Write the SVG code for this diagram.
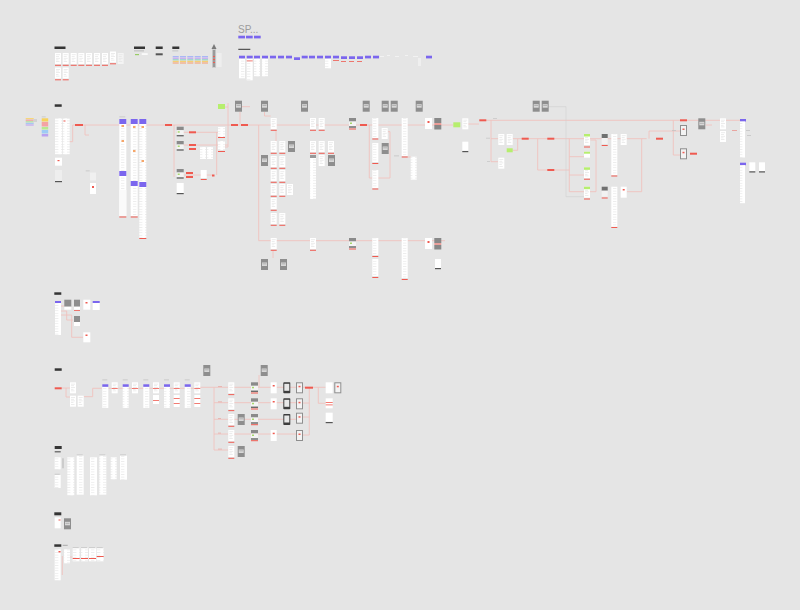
<svg xmlns="http://www.w3.org/2000/svg" width="800" height="610" viewBox="0 0 800 610">
<style>
.r{fill:#ef5a50}.k{fill:#353535}.p{fill:#7b66ee}.w{fill:#fff}.t{fill:url(#txt)}.gn{fill:#b6ee6e}.lb{fill:#c4c4c4}
.c{fill:none;stroke:#f0c2bd;stroke-width:0.9}.cg{fill:none;stroke:#d0d0d0;stroke-width:0.6}
</style>
<defs>
<pattern id="txt" width="6" height="2.6" patternUnits="userSpaceOnUse"><rect width="6" height="2.6" fill="#fff"/><rect x="1" y="0.9" width="3.4" height="0.55" fill="#e3e3e3"/></pattern>
<g id="s"><rect width="6" height="11" fill="#fff"/><rect x="1" y="1.5" width="4" height="0.6" fill="#e0e0e0"/><rect x="1" y="3.2" width="3" height="0.6" fill="#e0e0e0"/><rect x="1" y="4.9" width="4" height="0.6" fill="#e0e0e0"/><rect x="1" y="6.6" width="2.5" height="0.6" fill="#e0e0e0"/><rect x="1" y="8.3" width="3.5" height="0.6" fill="#e0e0e0"/></g>
<g id="sr"><use href="#s"/><rect y="11.8" width="6" height="1" fill="#ef5f56"/></g>
<g id="gr"><rect width="7" height="11" fill="#8e8e8e"/><rect x="1" y="3.5" width="5" height="3.5" fill="#d8d8d8"/><rect x="1.5" y="4.6" width="4" height="0.6" fill="#9a9a9a"/></g>
<g id="gb"><rect width="7" height="3.5" fill="#8a8a8a"/><rect y="3.5" width="7" height="4.5" fill="#f4f4f4"/><rect x="1" y="4.5" width="2" height="1.5" fill="#a6d86a"/><rect y="8.3" width="7" height="1.4" fill="#6c6c6c"/></g>
<g id="dk"><rect width="7" height="11" rx="0.8" fill="#3d3d3d"/><rect x="1" y="1.5" width="5" height="7" fill="#e8e8e8"/></g>
<g id="gf"><rect width="7" height="11" fill="#8e8e8e"/><rect x="1" y="1" width="5" height="9" fill="#f3f3f3"/><rect x="2.5" y="3.5" width="2" height="1.5" fill="#ef5f56"/></g>
</defs>
<rect width="800" height="610" fill="#e5e5e5"/>

<g id="connectors">
<path class="c" d="M69.5,141.7H72.7V125H453"/>
<path class="c" d="M85,125V135H89"/>
<path class="c" d="M174,125V177M176,132.3H218M183,145H228M183,175H212M216.7,132V175M228,103V147H222M225,107H228M242,106.7H250M240,112V124"/>
<path class="c" d="M258.7,125V240.7H445"/>
<path class="c" d="M264.5,112V116H270.7M276,130V141M369.3,125V178H390V131.7H388M407.7,157H410.7M273,250V258"/>
<path class="c" d="M468,124H479M486,120.3H740M491,120.3V161.7H498M491,138.7H498M512.7,138.7H646.7M517.7,138.7V150.3H512.7M537.7,138.7V170H569.3M569.3,138.7V191.7H584M569.3,156.7H584M569.3,175H584M590.5,140H596V191.7H590M641.7,138.7V191.7H627M649,138.7V131H673M673.3,120.3V155H680M673.3,131H680M706,125H712"/>
<path class="cg" d="M549,106.7H566V196.7H584"/>
<path class="c" d="M61,306H64M61,311H66.7V320H73M61,315H71.7V337.3H83"/>
<path class="c" d="M61.7,388H66V397H70M66,388H70M84,396.7H92.7V388.3H101.7M108.3,388.3H200"/>
<path class="c" d="M200,387.3H214V450M214,387.3H228.3M214,402.7H228.3M214,419.3H228.3M214,434H228.3M214,450H228.3M234,387.3H296M234,402.7H296M234,419.3H296M234,434H296M259,375V387"/>
<path class="c" d="M303,387.3H313M303,403H309.3M303,417H309.3M303,435H309.3M309.3,387.3V435M313,387.3H325.7M318.3,387.3V403.3H325.7"/>
<path class="c" d="M62.3,556V575M70,557H72.7"/>
</g>

<g id="sec-top">
<rect class="k" x="54.5" y="46.5" width="11" height="2.5"/>
<use href="#sr" x="55" y="53"/><use href="#sr" x="62.7" y="53"/><use href="#sr" x="70.7" y="53"/><use href="#sr" x="78.3" y="53"/><use href="#sr" x="86" y="53"/><use href="#sr" x="94" y="53"/><use href="#sr" x="102" y="53"/><use href="#sr" x="110" y="51.5"/><use href="#s" x="117.7" y="53" opacity="0.6"/>
<use href="#sr" x="55" y="67.5"/><use href="#sr" x="62.7" y="67.5"/>
<rect class="k" x="134" y="46.5" width="11" height="2.5"/><rect x="134" y="50.5" width="10" height="0.8" fill="#b0b0b0"/><rect x="135" y="54" width="4" height="1.2" fill="#9c6"/><rect class="w" x="141.7" y="53.3" width="6" height="1.5"/>
<rect class="k" x="155.7" y="46.5" width="7" height="2.5"/><rect x="155.7" y="53.3" width="7" height="2" fill="#555"/>
<rect class="k" x="172.3" y="46.5" width="7" height="2.5"/><rect x="172.3" y="50.5" width="6" height="0.8" fill="#bbb"/>
<g id="colors">
<g><rect x="172.7" y="56" width="6" height="1.2" fill="#a9b8f5"/><rect x="172.7" y="57.6" width="6" height="1.2" fill="#c2a6f2"/><rect x="172.7" y="59.2" width="6" height="1.2" fill="#8fd6c8"/><rect x="172.7" y="60.8" width="6" height="1.2" fill="#f5cf74"/><rect x="172.7" y="62.4" width="6" height="1.2" fill="#f5a77e"/></g>
<g><rect x="180" y="56" width="6" height="1.2" fill="#a9b8f5"/><rect x="180" y="57.6" width="6" height="1.2" fill="#c2a6f2"/><rect x="180" y="59.2" width="6" height="1.2" fill="#8fd6c8"/><rect x="180" y="60.8" width="6" height="1.2" fill="#f5cf74"/><rect x="180" y="62.4" width="6" height="1.2" fill="#f5a77e"/></g>
<g><rect x="187.3" y="56" width="6" height="1.2" fill="#a9b8f5"/><rect x="187.3" y="57.6" width="6" height="1.2" fill="#c2a6f2"/><rect x="187.3" y="59.2" width="6" height="1.2" fill="#8fd6c8"/><rect x="187.3" y="60.8" width="6" height="1.2" fill="#f5cf74"/><rect x="187.3" y="62.4" width="6" height="1.2" fill="#f5a77e"/></g>
<g><rect x="194.7" y="56" width="6" height="1.2" fill="#a9b8f5"/><rect x="194.7" y="57.6" width="6" height="1.2" fill="#c2a6f2"/><rect x="194.7" y="59.2" width="6" height="1.2" fill="#8fd6c8"/><rect x="194.7" y="60.8" width="6" height="1.2" fill="#f5cf74"/><rect x="194.7" y="62.4" width="6" height="1.2" fill="#f5a77e"/></g>
<g><rect x="202" y="56" width="6" height="1.2" fill="#a9b8f5"/><rect x="202" y="57.6" width="6" height="1.2" fill="#c2a6f2"/><rect x="202" y="59.2" width="6" height="1.2" fill="#8fd6c8"/><rect x="202" y="60.8" width="6" height="1.2" fill="#f5cf74"/><rect x="202" y="62.4" width="6" height="1.2" fill="#f5a77e"/></g>
</g>
<g id="tree"><rect x="216.7" y="53" width="5" height="14" fill="#eeeeee"/><path d="M214,44L216.5,49H211.5Z" fill="#7a7a7a"/><rect x="212" y="49" width="4" height="19" fill="#cfcfcf"/><rect x="212.8" y="50" width="2.4" height="17" fill="#9a9a9a"/><rect x="213" y="56" width="2" height="1" class="r"/><rect x="213" y="59" width="2" height="1" class="r"/><rect x="213" y="62" width="2" height="1" class="r"/></g>
</g>

<g id="sec-sp">
<text x="238" y="32.5" font-family="Liberation Sans, Arial, sans-serif" font-size="10" fill="#9c9c9c">SP...</text>
<rect class="p" x="238.3" y="35.7" width="6.7" height="2.7"/><rect class="p" x="246" y="35.7" width="6.7" height="2.7"/><rect class="p" x="254" y="35.7" width="6.7" height="2.7"/>
<rect class="k" x="238.3" y="48.8" width="12" height="1"/>
<rect class="t" x="239" y="58.3" width="6" height="20"/><rect class="t" x="246.7" y="58.3" width="6" height="22"/><rect class="r" x="246.7" y="60.5" width="6" height="0.8"/>
<rect class="t" x="254" y="58.3" width="6" height="18"/><rect class="t" x="262" y="58.3" width="6" height="18"/>
<rect class="t" x="325" y="58.3" width="6" height="10"/>
<rect class="r" x="333" y="60" width="6" height="0.8"/><rect class="r" x="341" y="61" width="5" height="0.8"/><rect class="r" x="349" y="61" width="5" height="0.8"/><rect class="r" x="357" y="61" width="5" height="0.8"/>
<rect class="p" x="239" y="55.7" width="6" height="2.7"/><rect class="p" x="246.7" y="55.7" width="6" height="2.7"/><rect class="p" x="254" y="55.7" width="6" height="2.7"/><rect class="p" x="262" y="55.7" width="6" height="2.7"/><rect class="p" x="270" y="55.7" width="6" height="2.7"/><rect class="p" x="278" y="55.7" width="6" height="2.7"/><rect class="p" x="286" y="55.7" width="6" height="2.7"/><rect class="p" x="294" y="57.3" width="6" height="2.7"/><rect class="p" x="301.7" y="55.7" width="6" height="2.7"/><rect class="p" x="309" y="55.7" width="6" height="2.7"/><rect class="p" x="317" y="55.7" width="6" height="2.7"/><rect class="p" x="325" y="55.7" width="6" height="2.7"/><rect class="p" x="333" y="55.7" width="6" height="2.7"/><rect class="p" x="341" y="56.3" width="6" height="2.7"/><rect class="p" x="349" y="56.3" width="6" height="2.7"/><rect class="p" x="357" y="56.3" width="6" height="2.7"/><rect class="p" x="365" y="55.7" width="6" height="2.7"/><rect class="p" x="373" y="55.7" width="6" height="2.7"/><rect class="p" x="426" y="55.7" width="6" height="2.7"/>
<rect x="380" y="56" width="4" height="1" fill="#f2f2f2"/><rect x="387" y="55" width="3" height="1" fill="#f2f2f2"/><rect x="395" y="56" width="4" height="1" fill="#f2f2f2"/><rect x="405" y="55" width="3" height="1" fill="#f2f2f2"/><rect x="413" y="56" width="5" height="1" fill="#f2f2f2"/><rect x="418" y="58" width="3" height="8" fill="#efefef"/>
</g>

<g id="sec-main-left">
<rect class="k" x="54.7" y="104.3" width="7" height="2.5"/>
<g id="legend-a"><rect x="25.7" y="118" width="8" height="1.2" fill="#f5d77a"/><rect x="25.7" y="119.6" width="8" height="1.2" fill="#f2a0a0"/><rect x="25.7" y="121.2" width="8" height="1.2" fill="#b0e0a0"/><rect x="25.7" y="122.8" width="8" height="1.2" fill="#a8c8f0"/><rect x="25.7" y="124.4" width="8" height="1.2" fill="#c0a8f0"/><rect x="33.5" y="119" width="3.5" height="3" fill="#d2d2d2"/></g>
<g id="legend-b"><rect class="lb" x="41.7" y="116.5" width="4" height="0.8"/><rect x="41.7" y="118.3" width="6.5" height="3.2" fill="#f7d25c"/><rect x="41.7" y="122" width="6.5" height="4.5" fill="#f4a3a3"/><rect x="41.7" y="127" width="6.5" height="2.5" fill="#b7ea8f"/><rect x="41.7" y="130" width="6.5" height="3.5" fill="#9ecbf5"/><rect x="41.7" y="134" width="6.5" height="2.5" fill="#b9a2f0"/></g>
<rect class="t" x="55" y="118.3" width="7" height="36"/><rect class="t" x="62.7" y="118.3" width="7" height="36"/><rect class="r" x="63.5" y="120.5" width="2" height="1"/>
<rect class="w" x="55" y="157.7" width="7" height="8"/><rect class="r" x="57.5" y="160" width="2" height="1.2"/>
<rect x="55" y="170" width="7" height="11" fill="#eeeeee"/><rect x="55" y="181" width="7" height="1.2" fill="#555"/>
<rect class="r" x="75" y="124" width="8" height="2"/>
<rect class="lb" x="85.7" y="170.5" width="4" height="0.8"/><rect x="90" y="172.5" width="6" height="8" fill="#f0f0f0"/><rect class="w" x="90" y="183" width="6" height="11"/><rect class="r" x="92" y="186" width="2" height="2"/>
<g id="col1"><rect class="lb" x="119.3" y="116.5" width="6" height="0.8"/><rect class="t" x="119.3" y="119" width="7" height="97"/><rect class="p" x="119.3" y="119" width="7" height="5"/><rect x="121.5" y="125" width="2.5" height="2" fill="#f5a66a"/><rect x="121.5" y="140" width="2.5" height="2" fill="#f5a66a"/><rect class="p" x="119.3" y="171" width="7" height="5"/><rect x="119.3" y="190" width="7" height="26" fill="#fafafa"/><rect class="r" x="119.3" y="216.5" width="7" height="1"/></g>
<g id="col2"><rect class="t" x="130.7" y="119" width="7" height="97"/><rect class="p" x="130.7" y="119" width="7" height="5"/><rect x="133" y="126" width="2.5" height="2" fill="#f5a66a"/><rect x="133" y="150" width="2.5" height="2" fill="#f5a66a"/><rect class="p" x="130.7" y="181" width="7" height="5"/><rect class="r" x="130.7" y="216.5" width="7" height="1"/></g>
<g id="col3"><rect class="t" x="139.3" y="119" width="7" height="119"/><rect class="p" x="139.3" y="119" width="7" height="5"/><rect x="141.5" y="126" width="2.5" height="2" fill="#f5a66a"/><rect x="141.5" y="160" width="2.5" height="2" fill="#f5a66a"/><rect class="p" x="139.3" y="182" width="7" height="5"/><rect class="r" x="139.3" y="238" width="7" height="1"/></g>
</g>

<g id="sec-main-mid">
<rect class="r" x="165" y="124" width="7" height="2"/>
<use href="#gb" x="176.7" y="126.7"/><use href="#gb" x="176.7" y="141"/><use href="#gb" x="176.7" y="169"/>
<rect class="w" x="176.7" y="183" width="7" height="10"/><rect x="176.7" y="193" width="7" height="1.2" fill="#555"/>
<rect class="r" x="189" y="131.3" width="7" height="2"/><rect class="r" x="189" y="144" width="7" height="2"/><rect class="r" x="189" y="148" width="7" height="2"/><rect class="r" x="186" y="172" width="7" height="2"/><rect class="r" x="186" y="176" width="7" height="2"/>
<rect class="t" x="200" y="147" width="6" height="12"/><rect class="t" x="207" y="147" width="6" height="12"/>
<rect class="w" x="200.7" y="170" width="6" height="8"/><rect class="r" x="200.7" y="179" width="6" height="1"/><rect class="r" x="212" y="174.5" width="2.5" height="2"/>
<rect class="t" x="218" y="127" width="7" height="10"/><rect class="r" x="218" y="137" width="7" height="1"/><rect class="t" x="218" y="141" width="7" height="9"/><rect class="r" x="218" y="151" width="7" height="1"/>
<rect class="gn" x="218" y="104" width="7" height="5"/>
<use href="#gr" x="235" y="100.7"/>
<rect class="r" x="231" y="124" width="7" height="2"/><rect class="r" x="241" y="124" width="7" height="2"/>
</g>

<g id="sec-main-right">
<use href="#gr" x="261" y="100.7"/><use href="#gr" x="301" y="100.7"/><use href="#gr" x="362.7" y="100.7"/><use href="#gr" x="381.7" y="100.7"/><use href="#gr" x="390.7" y="100.7"/><use href="#gr" x="415.7" y="100.7"/>
<use href="#sr" x="270.7" y="118"/>
<use href="#sr" x="270.7" y="141"/><use href="#sr" x="270.7" y="156"/><use href="#sr" x="270.7" y="170"/><use href="#sr" x="270.7" y="184"/><use href="#sr" x="270.7" y="198"/><use href="#sr" x="270.7" y="213"/>
<use href="#sr" x="279.3" y="141"/><use href="#sr" x="279.3" y="156"/><use href="#sr" x="279.3" y="170"/><use href="#sr" x="279.3" y="184"/><use href="#sr" x="279.3" y="213"/>
<use href="#gr" x="288" y="141"/><use href="#gr" x="261" y="155"/><use href="#s" x="287" y="184"/>
<use href="#sr" x="310" y="118"/><use href="#sr" x="318.7" y="118"/>
<use href="#sr" x="310" y="141"/><use href="#sr" x="318.7" y="141"/><use href="#sr" x="328" y="141"/>
<rect class="t" x="310" y="155" width="6" height="44"/><rect x="310" y="155" width="6" height="3" fill="#999"/>
<use href="#s" x="318.7" y="155"/><use href="#gr" x="328" y="155"/>
<use href="#gb" x="349" y="118"/><rect class="r" x="349" y="128.5" width="7" height="1"/>
<rect class="r" x="360" y="124" width="7" height="2"/>
<rect class="t" x="372.3" y="118" width="6" height="20"/><rect class="r" x="372.3" y="138.5" width="6" height="1"/>
<rect class="t" x="372.3" y="143" width="6" height="19"/><rect class="r" x="372.3" y="163" width="6" height="1"/>
<rect class="t" x="372.3" y="170" width="6" height="18"/><rect class="r" x="372.3" y="188.5" width="6" height="1"/>
<use href="#s" x="381.7" y="128"/><use href="#gr" x="381.7" y="143"/>
<rect class="t" x="401.7" y="118" width="6" height="38"/><rect class="r" x="401.7" y="156.5" width="6" height="1"/><rect class="lb" x="394" y="155.5" width="5" height="0.8"/>
<rect class="t" x="410.7" y="156.7" width="6" height="23"/>
<rect class="w" x="425" y="118" width="7" height="11"/><rect class="r" x="427.5" y="121" width="2" height="2"/>
<g><rect x="434.3" y="118" width="7" height="5" fill="#888"/><rect class="r" x="434.3" y="123.5" width="7" height="1"/><rect x="434.3" y="125" width="7" height="4.5" fill="#888"/></g>
<use href="#sr" x="270.7" y="238"/>
<use href="#gr" x="261" y="259"/><use href="#gr" x="280" y="259"/>
<use href="#sr" x="310" y="238"/>
<use href="#gb" x="349" y="238"/><rect class="r" x="349" y="248.5" width="7" height="1"/>
<rect class="t" x="372.3" y="238" width="6" height="17"/><rect class="r" x="372.3" y="256" width="6" height="1"/>
<rect class="t" x="372.3" y="259" width="6" height="17"/><rect class="r" x="372.3" y="277" width="6" height="1"/>
<rect class="t" x="401.7" y="238" width="6" height="40"/><rect class="r" x="401.7" y="279" width="6" height="1"/>
<rect class="w" x="425" y="238" width="7" height="11"/><rect class="r" x="427.5" y="241" width="2" height="2"/>
<g><rect x="434.3" y="238" width="7" height="5" fill="#888"/><rect class="r" x="434.3" y="243.5" width="7" height="1"/><rect x="434.3" y="245" width="7" height="4.5" fill="#888"/></g>
<rect class="w" x="435" y="259" width="6" height="9"/><rect x="435" y="268" width="6" height="1.2" fill="#555"/>
</g>

<g id="sec-right">
<rect class="gn" x="453.3" y="122.3" width="7" height="5"/>
<use href="#s" x="462.3" y="118.3"/>
<rect class="w" x="462.3" y="141.7" width="6" height="9"/><rect x="462.3" y="151" width="6" height="1.2" fill="#555"/>
<rect class="r" x="479.3" y="119.3" width="7" height="2"/><rect class="lb" x="493" y="118" width="4" height="0.7"/><rect class="lb" x="486" y="137.8" width="4" height="0.7"/><rect class="lb" x="487" y="161" width="3" height="0.7"/>
<use href="#s" x="498.3" y="134"/><use href="#s" x="506.7" y="134"/><rect class="gn" x="506.7" y="148.3" width="6" height="4"/><use href="#s" x="498.3" y="157.7"/>
<rect class="r" x="521.7" y="137.7" width="7" height="2"/><rect class="r" x="547.3" y="137.7" width="7" height="2"/><rect class="r" x="547.3" y="169" width="7" height="2"/>
<use href="#gr" x="532.7" y="100.7"/><use href="#gr" x="541.7" y="100.7"/>
<use href="#s" x="584" y="134"/><rect class="gn" x="584" y="134" width="6" height="2.5"/><rect class="r" x="584" y="146.5" width="6" height="1"/>
<rect class="w" x="584" y="151.7" width="6" height="6"/><rect class="gn" x="584" y="151.7" width="6" height="2"/>
<use href="#s" x="584" y="167.3"/><rect class="gn" x="584" y="167.3" width="6" height="2.5"/><rect class="r" x="584" y="178.7" width="6" height="1"/>
<use href="#s" x="584" y="186.7"/><rect class="gn" x="584" y="186.7" width="6" height="2.5"/><rect class="r" x="584" y="198.5" width="6" height="1"/>
<g><rect x="601.7" y="134" width="6" height="4" fill="#707070"/><rect x="601.7" y="138" width="6" height="6" fill="#f2f2f2"/><rect class="r" x="601.7" y="145" width="6" height="1"/></g>
<g><rect x="601.7" y="186.7" width="6" height="4" fill="#707070"/><rect x="601.7" y="190.7" width="6" height="6" fill="#f2f2f2"/><rect class="r" x="601.7" y="197.5" width="6" height="1"/></g>
<rect class="t" x="611.3" y="134" width="6" height="41"/><rect class="r" x="611.3" y="175.5" width="6" height="1"/>
<rect class="t" x="611.3" y="186.7" width="6" height="40"/><rect class="r" x="611.3" y="227" width="6" height="1"/>
<use href="#s" x="620.7" y="134"/><rect class="w" x="620.7" y="186.7" width="6" height="11"/><rect class="r" x="622.7" y="189" width="2" height="1.5"/>
<rect class="r" x="656" y="137.7" width="7" height="2"/>
<rect class="r" x="680" y="119.3" width="7" height="2"/><use href="#gf" x="680" y="125"/><use href="#gf" x="680" y="148.3"/>
<rect class="r" x="690" y="152.7" width="7" height="2"/><rect class="lb" x="672" y="130" width="4" height="0.8"/>
<use href="#gr" x="698.3" y="118.3"/>
<use href="#s" x="720" y="118.3"/><use href="#s" x="720" y="131"/><rect x="732" y="130" width="5" height="1" fill="#e9a5a0"/>
<rect class="p" x="740" y="119" width="6" height="2.5"/><rect class="t" x="740" y="121.5" width="5" height="36"/><rect class="lb" x="746" y="130" width="4" height="0.8"/><rect class="lb" x="747" y="135" width="4" height="0.8"/>
<rect class="p" x="740" y="162.7" width="6" height="2.5"/><rect class="t" x="740" y="165.2" width="5" height="38"/>
<rect class="w" x="749.3" y="162.3" width="6" height="9"/><rect x="749.3" y="171.3" width="6" height="1.2" fill="#555"/>
<rect class="w" x="759" y="162.3" width="6" height="9"/><rect x="759" y="171.3" width="6" height="1.2" fill="#555"/>
</g>

<g id="sec-c">
<rect class="k" x="54.3" y="292.3" width="7" height="2.5"/>
<rect class="p" x="55" y="301" width="6" height="2"/><rect class="t" x="55" y="303" width="6" height="32"/>
<rect x="64.3" y="299.7" width="7" height="7" fill="#8e8e8e"/><rect class="w" x="64.3" y="306.7" width="7" height="3"/>
<rect x="74" y="299.7" width="6" height="7" fill="#8e8e8e"/><rect class="w" x="74" y="306.7" width="6" height="3"/><rect class="r" x="74" y="310" width="6" height="0.8"/>
<rect class="w" x="83.3" y="299.7" width="7" height="10"/><rect class="r" x="85.5" y="302" width="2" height="1.5"/>
<rect class="p" x="92.7" y="301" width="7" height="2"/><rect class="w" x="92.7" y="303" width="7" height="7"/>
<rect x="74" y="316" width="6" height="6" fill="#8e8e8e"/><rect class="w" x="74" y="322" width="6" height="4"/>
<rect class="w" x="83.3" y="332.3" width="7" height="10"/><rect class="r" x="85.5" y="334.5" width="2" height="1.5"/>
</g>

<g id="sec-d">
<rect class="k" x="54.7" y="368.3" width="7" height="2.5"/><rect class="r" x="54.7" y="387.3" width="7" height="2"/>
<use href="#s" x="70" y="382.3"/><use href="#s" x="70" y="395.7"/><use href="#s" x="77.7" y="395.7"/>
<g><rect class="lb" x="102.3" y="379.5" width="5" height="0.8"/><rect class="p" x="102.3" y="384.3" width="6" height="2.5"/><rect class="t" x="102.3" y="387" width="6" height="21"/></g>
<g><rect class="lb" x="122.7" y="379.5" width="5" height="0.8"/><rect class="p" x="122.7" y="384.3" width="6" height="2.5"/><rect class="t" x="122.7" y="387" width="6" height="21"/></g>
<g><rect class="lb" x="143.3" y="379.5" width="5" height="0.8"/><rect class="p" x="143.3" y="384.3" width="6" height="2.5"/><rect class="t" x="143.3" y="387" width="6" height="21"/></g>
<g><rect class="lb" x="164" y="379.5" width="5" height="0.8"/><rect class="p" x="164" y="384.3" width="6" height="2.5"/><rect class="t" x="164" y="387" width="6" height="21"/></g>
<g><rect class="lb" x="184.7" y="379.5" width="5" height="0.8"/><rect class="p" x="184.7" y="384.3" width="6" height="2.5"/><rect class="t" x="184.7" y="387" width="6" height="21"/></g>
<use href="#s" x="111.7" y="382.3"/><rect class="r" x="111.7" y="388" width="6" height="0.8"/>
<use href="#s" x="132" y="382.3"/><rect class="r" x="132" y="388" width="6" height="0.8"/>
<use href="#s" x="153" y="382.3"/><rect class="r" x="153" y="388" width="6" height="0.8"/><rect class="w" x="153" y="395" width="6" height="9"/><rect class="r" x="153" y="400" width="6" height="0.8"/>
<use href="#s" x="173.7" y="382.3"/><rect class="r" x="173.7" y="388" width="6" height="0.8"/><rect class="w" x="173.7" y="395" width="6" height="12"/><rect class="r" x="173.7" y="398" width="6" height="0.8"/><rect class="r" x="173.7" y="403" width="6" height="0.8"/>
<use href="#s" x="194.3" y="382.3"/><rect class="r" x="194.3" y="388" width="6" height="0.8"/><rect class="w" x="194.3" y="395" width="6" height="12"/><rect class="r" x="194.3" y="398" width="6" height="0.8"/><rect class="r" x="194.3" y="403" width="6" height="0.8"/>
<use href="#gr" x="203.3" y="365"/><use href="#gr" x="260.7" y="365"/>
<use href="#sr" x="228.3" y="382.3"/><use href="#sr" x="228.3" y="398.3"/><use href="#sr" x="228.3" y="414"/><use href="#sr" x="228.3" y="430"/><use href="#sr" x="228.3" y="446"/>
<use href="#gr" x="237.7" y="414"/><use href="#gr" x="237.7" y="446"/>
<use href="#gb" x="251" y="382.3"/><use href="#gb" x="251" y="398.3"/><use href="#gb" x="251" y="414"/><use href="#gb" x="251" y="430"/>
<rect class="r" x="251" y="392.5" width="7" height="1"/><rect class="r" x="251" y="408.5" width="7" height="1"/><rect class="r" x="251" y="424.2" width="7" height="1"/><rect class="r" x="251" y="440.2" width="7" height="1"/>
<rect class="w" x="270.7" y="382.3" width="6" height="11"/><rect class="r" x="272.7" y="385" width="2" height="1.5"/>
<rect class="w" x="270.7" y="398.3" width="6" height="11"/><rect class="r" x="272.7" y="401" width="2" height="1.5"/>
<rect class="w" x="270.7" y="430" width="6" height="11"/><rect class="r" x="272.7" y="432.7" width="2" height="1.5"/>
<use href="#dk" x="283.3" y="382.3"/><use href="#dk" x="283.3" y="398.3"/><use href="#dk" x="283.3" y="414"/>
<use href="#gf" x="296" y="382.3"/><use href="#gf" x="296" y="398.3"/><use href="#gf" x="296" y="412.7"/><use href="#gf" x="296" y="430"/>
<rect class="r" x="305" y="386.7" width="8" height="2"/>
<rect class="w" x="325.7" y="382.3" width="7" height="11"/><use href="#gf" x="334.3" y="382.3"/>
<rect class="w" x="325.7" y="398.3" width="7" height="10"/><rect class="r" x="325.7" y="402" width="7" height="0.8"/><rect class="r" x="325.7" y="404.5" width="7" height="0.8"/>
<rect class="w" x="325.7" y="412.7" width="7" height="9"/><rect x="325.7" y="422" width="7" height="1.2" fill="#555"/>
<rect x="218" y="386" width="4" height="0.7" fill="#e9a5a0"/><rect x="218" y="401.5" width="4" height="0.7" fill="#e9a5a0"/><rect x="218" y="418" width="3" height="0.7" fill="#e9a5a0"/><rect x="218" y="432.7" width="3" height="0.7" fill="#e9a5a0"/><rect x="218" y="448.7" width="4" height="0.7" fill="#e9a5a0"/>
</g>

<g id="sec-e">
<rect class="k" x="54.7" y="446" width="7" height="3"/><rect x="54.7" y="451" width="6" height="1.5" fill="#777"/>
<rect class="t" x="54.7" y="457.3" width="6" height="12"/><rect x="62" y="458.3" width="2" height="10" fill="#cccccc"/>
<rect class="lb" x="54.7" y="473.8" width="5" height="0.8"/><rect class="t" x="54.7" y="475" width="6" height="13"/>
<rect class="t" x="67.3" y="457.3" width="7" height="38"/><rect class="lb" x="76.7" y="454.5" width="6" height="0.8"/><rect class="t" x="76.7" y="455.7" width="7" height="39"/>
<rect class="t" x="90" y="457.3" width="7" height="38"/><rect class="lb" x="99.3" y="454.5" width="6" height="0.8"/><rect class="t" x="99.3" y="455.7" width="7" height="39"/>
<rect class="t" x="110.7" y="457.3" width="6" height="22"/><rect class="lb" x="120" y="454.5" width="6" height="0.8"/><rect class="t" x="120" y="455.7" width="7" height="24"/>
</g>

<g id="sec-f">
<rect class="k" x="54.3" y="512.3" width="7" height="3"/>
<rect class="w" x="54.7" y="517.3" width="6" height="11"/><rect class="r" x="58.5" y="519.5" width="2" height="1"/>
<use href="#gr" x="64" y="518.3"/>
</g>

<g id="sec-g">
<rect class="k" x="54.3" y="544.3" width="7" height="2.5"/><rect x="62.7" y="544.8" width="5" height="1" fill="#aaa"/>
<rect class="t" x="54.7" y="549.3" width="6" height="31"/><rect class="r" x="58.5" y="551" width="2" height="1.5"/>
<rect class="t" x="64" y="549.3" width="6" height="14"/>
<rect class="lb" x="72.7" y="547.3" width="6" height="0.7"/><rect class="t" x="72.7" y="548.3" width="7" height="13"/><rect class="r" x="72.7" y="558" width="7" height="1"/>
<rect class="lb" x="81" y="547.3" width="6" height="0.7"/><rect class="t" x="81" y="548.3" width="7" height="13"/><rect class="r" x="81" y="558" width="7" height="1"/>
<rect class="lb" x="89" y="547.3" width="6" height="0.7"/><rect class="t" x="89" y="548.3" width="7" height="13"/><rect class="r" x="89" y="558" width="7" height="1"/>
<rect class="lb" x="96.7" y="547.3" width="6" height="0.7"/><rect class="t" x="96.7" y="548.3" width="7" height="13"/><rect class="r" x="96.7" y="556" width="7" height="1"/>
</g>
</svg>
